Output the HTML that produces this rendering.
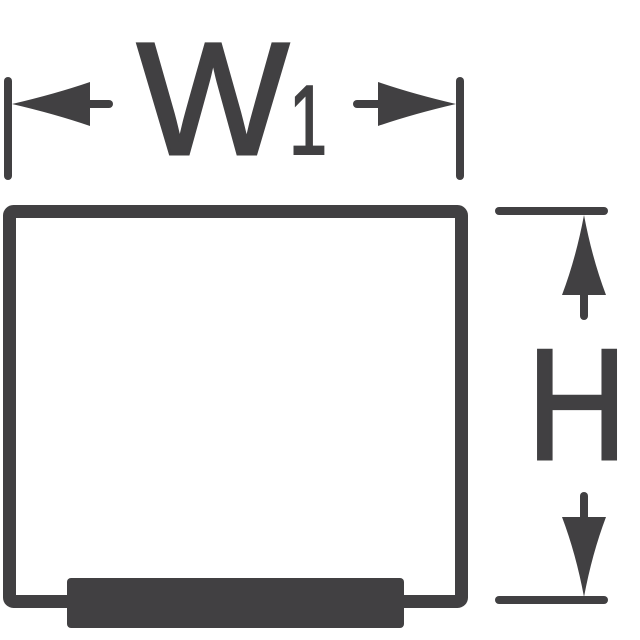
<!DOCTYPE html>
<html><head><style>
html,body{margin:0;padding:0;background:#fff;}
svg{display:block;}
</style></head><body>
<svg width="640" height="640" viewBox="0 0 640 640" xmlns="http://www.w3.org/2000/svg">
<g fill="#414042" stroke="#414042">
<rect x="9.5" y="211.5" width="452" height="390" rx="4" fill="none" stroke-width="13"/>
<rect x="67" y="578" width="337" height="50" rx="4" stroke="none"/>
<line x1="8" y1="81" x2="8" y2="176" stroke-width="8" stroke-linecap="round"/>
<line x1="460" y1="81" x2="460" y2="176" stroke-width="8" stroke-linecap="round"/>
<line x1="60" y1="104" x2="109" y2="104" stroke-width="8" stroke-linecap="round"/>
<path d="M12 104 Q55 94 90 82 L90 126 Q55 114 12 104Z" stroke="none"/>
<line x1="357" y1="104" x2="410" y2="104" stroke-width="8" stroke-linecap="round"/>
<path d="M456 104 Q413 94 378 82 L378 126 Q413 114 456 104Z" stroke="none"/>
<line x1="499" y1="211" x2="604" y2="211" stroke-width="8" stroke-linecap="round"/>
<line x1="499" y1="600" x2="604" y2="600" stroke-width="8" stroke-linecap="round"/>
<line x1="584" y1="250" x2="584" y2="316" stroke-width="8" stroke-linecap="round"/>
<path d="M584 215 Q576 258 562 295 L606 295 Q592 258 584 215Z" stroke="none"/>
<line x1="584" y1="496" x2="584" y2="560" stroke-width="8" stroke-linecap="round"/>
<path d="M584 597 Q576 554 562 517 L606 517 Q592 554 584 597Z" stroke="none"/>
</g>
<g fill="#414042" stroke="#414042" font-family="Liberation Sans, sans-serif">
<text x="137" y="154" font-size="160" stroke-width="3" textLength="152" lengthAdjust="spacingAndGlyphs">W</text>
<text x="289" y="154" font-size="98" stroke-width="2" textLength="38" lengthAdjust="spacingAndGlyphs">1</text>
<text x="527" y="459" font-size="158" stroke-width="3" textLength="100" lengthAdjust="spacingAndGlyphs">H</text>
</g>
</svg>
</body></html>
